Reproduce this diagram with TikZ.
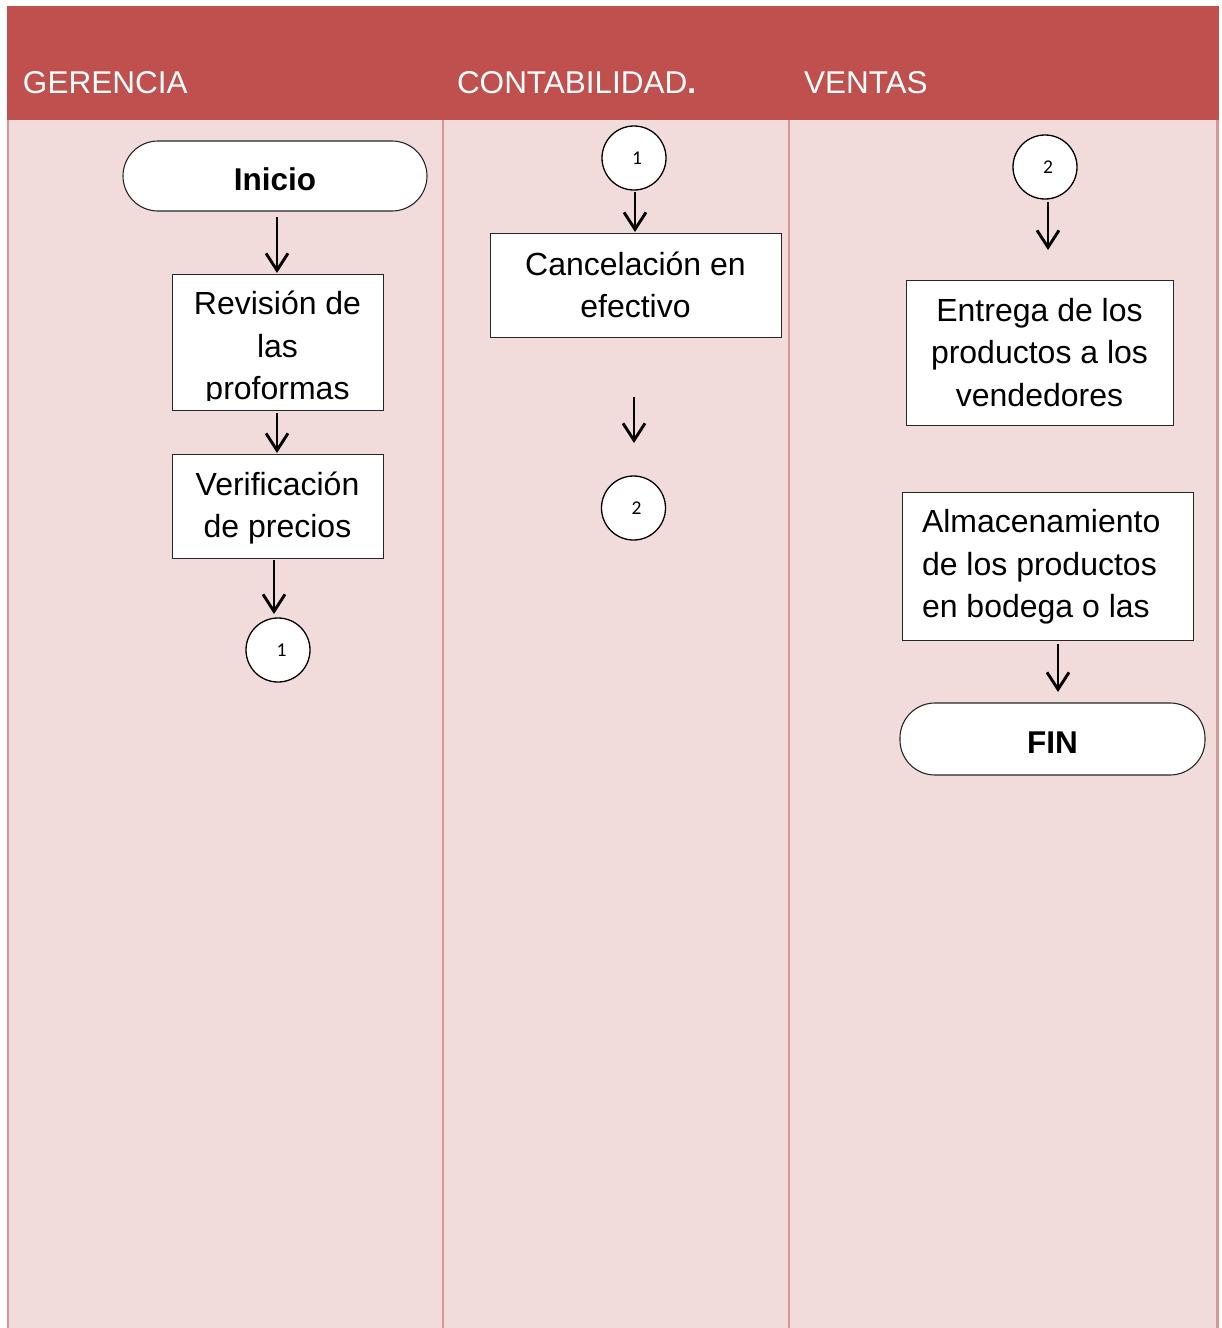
\documentclass[tikz,border=0pt]{standalone}
\usepackage{fontspec}
\setmainfont{Liberation Sans}
\newfontfamily\digitfont{Carlito}
\usetikzlibrary{arrows.meta,calc}
\definecolor{headred}{HTML}{C0504D}
\definecolor{lanepink}{HTML}{F2DCDB}
\definecolor{laneline}{HTML}{D99694}

\begin{document}
\begin{tikzpicture}[x=1pt,y=-1pt,
  every node/.style={inner sep=0pt, outer sep=0pt},
  txt/.style={font=\fontsize{32}{42.5}\selectfont, align=center},
  procbox/.style={draw=black!85, fill=white, line width=1pt},
  terminal/.style={draw=black!85, fill=white, line width=1.1pt, rounded corners=35pt,
                   text height=29pt, text depth=0pt,
                   font=\fontsize{31.5}{36}\selectfont\bfseries},
  conn/.style={circle, draw=black, fill=white, line width=1.3pt, minimum size=64pt,
               font=\digitfont\fontsize{19.5}{22}\selectfont},
  flow/.style={draw=black, line width=2.9pt, -{Straight Barb[length=17pt,width=22pt]}},
  lanehead/.style={text=white, font=\fontsize{31.5}{36}\selectfont, anchor=base west}
]
\useasboundingbox (0,0) rectangle (1222,1328);

% swimlane frame
\fill[headred] (7,6) rectangle (1219,120);
\fill[lanepink] (7,120) rectangle (1219,1328);
\draw[laneline, line width=2.2pt] (8,120) -- (8,1328);
\draw[laneline, line width=2.2pt] (443,120) -- (443,1328);
\draw[laneline, line width=2.2pt] (789,120) -- (789,1328);
\draw[laneline, line width=2.2pt] (1217.5,120) -- (1217.5,1328);

\node[lanehead] (hger) at (23,93) {GERENCIA};
\node[lanehead] (hcon) at (457,93) {CONTABILIDAD{\bfseries .}};
\node[lanehead] (hven) at (804,93) {VENTAS};

% GERENCIA lane
\node[terminal, minimum width=304pt, minimum height=70pt] (inicio) at (275,176) {Inicio};
\node[procbox, minimum width=211pt, minimum height=136pt] (revision) at (277.5,342) {};
\begin{scope}
  \clip (172,275) rectangle (383,400);
  \node[txt] (revtext) at (277.5,349) {Revisión de\\las\\proformas};
\end{scope}
\node[procbox, txt, minimum width=211pt, minimum height=104pt] (verif) at (277.5,506) {};
\node[txt] (veriftext) at (277.5,508) {Verificación\\de precios};
\node[conn] (c1a) at (278,650) {\kern7pt 1};

% CONTABILIDAD lane
\node[conn] (c1b) at (634,158) {\kern6pt 1};
\node[procbox, txt, minimum width=291pt, minimum height=104pt] (cancel) at (635.5,285) {Cancelación en\\efectivo};
\node[conn] (c2a) at (633.5,508) {\kern6pt 2};

% VENTAS lane
\node[conn] (c2b) at (1045,167) {\kern6pt 2};
\node[procbox, txt, minimum width=267pt, minimum height=145pt] (entrega) at (1039.5,352.5) {Entrega de los\\productos a los\\vendedores};
\node[procbox, minimum width=291pt, minimum height=148pt] (almac) at (1047.5,566) {};
\node[txt, align=left, anchor=west] (almtext) at (922,567) {Almacenamiento\\de los productos\\en bodega o las};
\node[terminal, minimum width=305pt, minimum height=72pt] (fin) at (1052.5,739) {FIN};

% connectors
\draw[flow, shorten <=6pt, shorten >=1pt] ([xshift=2pt]inicio.south) -- ([xshift=-0.5pt]revision.north);
\draw[flow, shorten <=3pt, shorten >=1pt] ([xshift=-0.5pt]revision.south) -- ([xshift=-0.5pt]verif.north);
\draw[flow, shorten <=2pt, shorten >=4pt] ([xshift=-3.5pt]verif.south) -- ([xshift=-4pt]c1a.north);
\draw[flow, shorten <=2pt, shorten >=1pt] ([xshift=1pt]c1b.south) -- ([xshift=-0.5pt]cancel.north);
\draw[flow, shorten <=60pt, shorten >=33pt] ([xshift=-1.5pt]cancel.south) -- ([xshift=0.5pt]c2a.north);
\draw[flow, shorten <=3pt, shorten >=30pt] ([xshift=3pt]c2b.south) -- ([xshift=8.5pt]entrega.north);
\draw[flow, shorten <=4pt, shorten >=11pt] ([xshift=10.5pt]almac.south) -- ([xshift=5.5pt]fin.north);
\end{tikzpicture}
\end{document}
